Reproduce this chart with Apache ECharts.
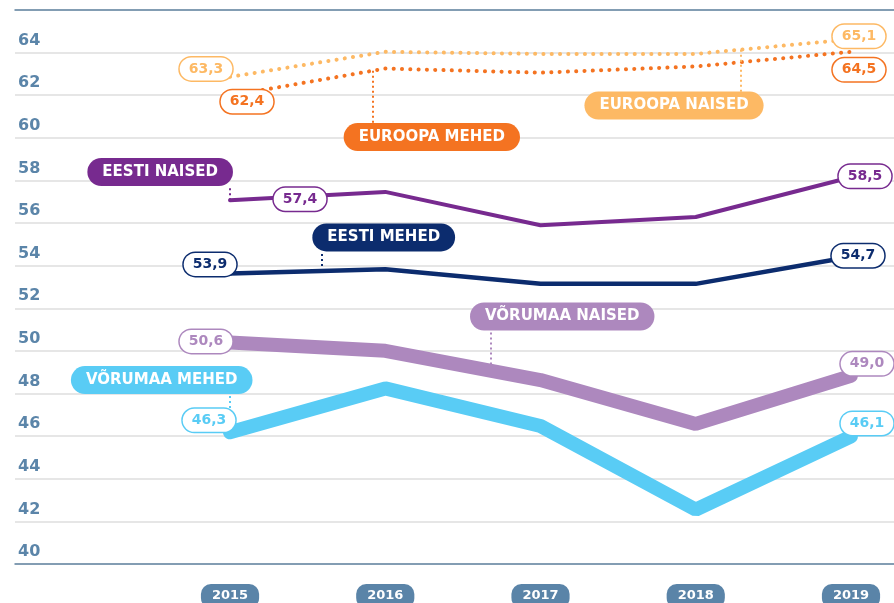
<!DOCTYPE html>
<html>
<head>
<meta charset="utf-8">
<title>Oodatav eluiga</title>
<script src="https://cdn.jsdelivr.net/npm/echarts@6/dist/echarts.min.js"></script>
<style>
    html, body {margin: 0; padding: 0; background: #fff;}
    #main {width: 894px; height: 603px;}
</style>
</head>
<body>
<div id="main"></div>
<script>
/*andmed*/
var years = [2015, 2016, 2017, 2018, 2019];
var euroopaNaised = [63.3, 64.5, 64.4, 64.4, 65.1];
var euroopaMehed = [62.4, 63.7, 63.5, 63.8, 64.5];
var eestiNaised = [57.4, 57.8, 56.2, 56.6, 58.5];
var eestiMehed = [53.9, 54.1, 53.4, 53.4, 54.7];
var vorumaaNaised = [50.6, 50.2, 48.8, 46.7, 49.0];
var vorumaaMehed = [46.3, 48.4, 46.6, 42.6, 46.1];

var FONT = 'DejaVu Sans';

/*joonte stiil + sildid (tag = nime sildi keskpunkt, link = punktiirjoon [x, y1, y2])*/
var lines = [
    {name: 'EUROOPA NAISED', values: euroopaNaised, color: '#fdb964', width: 4, dotted: true,
        offsets: [[-24, -8], [8, -3]], tag: [2017.86, 61.93], link: [2018.29, 64.6, 62.58]},
    {name: 'EUROOPA MEHED', values: euroopaMehed, color: '#f47321', width: 4, dotted: true,
        offsets: [[17, 6], [8, 18]], tag: [2016.30, 60.42], link: [2015.92, 63.59, 61.09]},
    {name: 'EESTI NAISED', values: eestiNaised, color: '#772a8f', width: 4,
        offsets: [[70, -1], [14, -1]], tag: [2014.55, 58.75], link: [2015, 57.4, 58.08]},
    {name: 'EESTI MEHED', values: eestiMehed, color: '#0c2c6e', width: 4.5,
        offsets: [[-20, -9], [7, -1]], tag: [2015.99, 55.62], link: [2015.59, 54.02, 54.92]},
    {name: 'VÕRUMAA NAISED', values: vorumaaNaised, color: '#ad88be', width: 14,
        offsets: [[-24, -1], [16, -12]], tag: [2017.14, 51.84], link: [2016.68, 49.3, 51.15]},
    {name: 'VÕRUMAA MEHED', values: vorumaaMehed, color: '#59ccf5', width: 14,
        offsets: [[-21, -12], [16, -13]], tag: [2014.56, 48.8], link: [2015, 47.46, 48.08]}
];

function fmt(v) {
    return v.toFixed(1).replace('.', ',');
}

function makeSeries(s) {
    var last = years.length - 1;
    var data = s.values.map(function (v, j) {
        var item = {value: [years[j], v]};
        if (j === 0 || j === last) {
            item.label = {show: true, offset: s.offsets[j === 0 ? 0 : 1]};
        }
        return item;
    });
    return {
        name: s.name,
        type: 'line',
        xAxisIndex: 0,
        yAxisIndex: 1,
        data: data,
        symbol: 'circle',
        symbolSize: 0,
        showSymbol: true,
        showAllSymbol: true,
        clip: false,
        silent: true,
        emphasis: {disabled: true},
        lineStyle: {
            color: s.color,
            width: s.width,
            type: s.dotted ? [0.1, 8.2] : 'solid',
            cap: 'round'
        },
        itemStyle: {color: s.color},
        label: {
            show: false,
            position: 'inside',
            formatter: function (p) { return fmt(p.value[1]); },
            backgroundColor: '#fff',
            borderColor: s.color,
            borderWidth: 1.5,
            borderRadius: 12,
            padding: [3, 9, 3, 9],
            lineHeight: 17,
            fontFamily: FONT,
            fontSize: 14,
            fontWeight: 'bold',
            color: s.color
        },
        markPoint: {
            symbol: 'circle',
            symbolSize: 0,
            silent: true,
            animation: false,
            label: {
                show: true,
                position: 'inside',
                formatter: s.name,
                color: '#fff',
                backgroundColor: s.color,
                borderRadius: 14,
                padding: [5, 15, 5, 15],
                lineHeight: 18,
                fontFamily: FONT,
                fontSize: 15,
                fontWeight: 'bold'
            },
            data: [{coord: s.tag}]
        },
        markLine: {
            symbol: ['none', 'none'],
            silent: true,
            animation: false,
            label: {show: false},
            emphasis: {disabled: true},
            lineStyle: {color: s.color, width: 2, type: [2, 3], cap: 'butt'},
            data: [[{coord: [s.link[0], s.link[1]]}, {coord: [s.link[0], s.link[2]]}]]
        }
    };
}

var box = document.getElementById('main');
var myChart = echarts.init(box, null, {renderer: 'canvas'});

var xMin = 2013.615, xMax = 2019.277;
var axisColor = '#6385a2';

var options = {
    animation: false,
    backgroundColor: '#fff',
    grid: {left: 15, right: 0, top: 10, bottom: 39, containLabel: false, outerBoundsMode: 'none'},
    xAxis: [
        {
            type: 'value', min: xMin, max: xMax, position: 'bottom',
            axisLine: {show: true, onZero: false, lineStyle: {color: axisColor, width: 1.5}},
            axisTick: {show: false},
            splitLine: {show: false},
            axisLabel: {
                customValues: years,
                formatter: function (v) { return String(v); },
                margin: 20,
                color: '#fff',
                backgroundColor: '#5a84a8',
                borderRadius: 10,
                padding: [4, 11, 4, 11],
                lineHeight: 16,
                fontFamily: FONT,
                fontSize: 13,
                fontWeight: 'bold'
            }
        },
        {
            type: 'value', min: xMin, max: xMax, position: 'top',
            axisLine: {show: true, onZero: false, lineStyle: {color: axisColor, width: 1.5}},
            axisTick: {show: false},
            axisLabel: {show: false},
            splitLine: {show: false}
        }
    ],
    yAxis: [
        {
            type: 'value', min: 40, max: 66, interval: 2, position: 'left',
            axisLine: {show: false},
            axisTick: {show: false},
            splitLine: {lineStyle: {color: '#dedede', width: 1.5}},
            axisLabel: {
                inside: true,
                margin: 3,
                verticalAlign: 'bottom',
                lineHeight: 16,
                padding: [0, 0, 4, 0],
                color: '#5b85a9',
                fontFamily: FONT,
                fontSize: 16,
                fontWeight: 'bold',
                formatter: function (v) { return v === 66 ? '' : String(v); }
            }
        },
        {
            type: 'value', min: 40, max: 66.5, show: false
        }
    ],
    series: lines.map(makeSeries)
};

myChart.setOption(options);
</script>
</body>
</html>
